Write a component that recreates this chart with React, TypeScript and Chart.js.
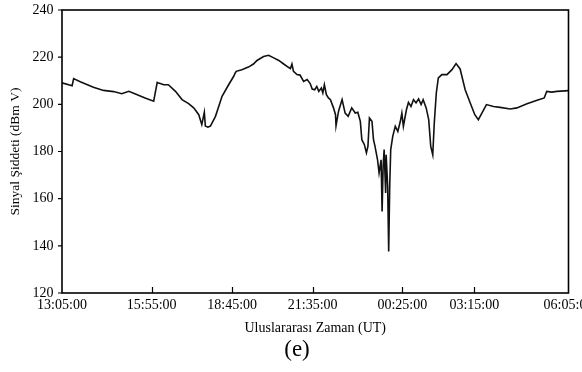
import React, { useEffect, useRef } from "react";
import { Chart, registerables } from "chart.js";

Chart.register(...registerables);

// Sample position along the recording (0 = 13:05:00 UT, 1000 = 06:05:00 UT, uneven time base)
const SAMPLE_X = [
  0, 20, 23, 36, 62, 82, 102, 118, 132, 145, 164, 181, 188, 191, 201, 210, 224, 237, 250, 260,
  270, 276, 281, 283, 288, 293, 303, 316, 329, 339, 342, 344, 355, 368, 378, 385, 398, 408, 418, 428,
  437, 447, 451, 454, 457, 464, 470, 477, 484, 490, 494, 499, 503, 507, 512, 515, 518, 522, 526, 530,
  536, 540, 541, 546, 553, 559, 565, 572, 579, 584, 589, 592, 597, 601, 604, 607, 612, 615, 618, 623,
  626, 630, 632, 634, 636, 639, 640, 643, 645, 647, 649, 653, 658, 663, 668, 671, 674, 680, 684, 689,
  694, 699, 704, 709, 713, 719, 724, 728, 732, 735, 739, 743, 750, 760, 770, 778, 786, 796, 806, 815,
  822, 829, 838, 852, 865, 885, 898, 918, 938, 952, 957, 967, 977, 1000,
];

// Signal strength (dBm V)
const SIGNAL_DBMV = [
  209.1, 207.9, 210.9, 209.6, 207.2, 205.9, 205.4, 204.5, 205.5, 204.4, 202.7, 201.3, 209.3, 209.0, 208.3, 208.3, 205.5, 202.0, 200.3, 198.5,
  195.6, 191.4, 196.6, 190.8, 190.3, 190.8, 194.9, 203.4, 208.3, 211.9, 213.3, 214.0, 214.7, 215.8, 217.1, 218.6, 220.3, 220.8, 219.7, 218.6,
  217.2, 215.7, 215.2, 217.1, 214.0, 212.6, 212.4, 209.7, 210.5, 208.8, 206.5, 206.2, 207.6, 205.5, 206.9, 204.8, 208.3, 204.1, 202.7, 202.0,
  198.5, 195.6, 190.9, 197.1, 202.0, 196.3, 194.9, 198.5, 196.3, 196.6, 192.8, 185.0, 182.9, 179.4, 182.2, 194.2, 192.8, 185.0, 182.2, 176.5,
  170.9, 176.5, 154.6, 173.7, 180.8, 162.4, 178.6, 165.2, 137.6, 165.2, 180.8, 186.4, 190.7, 188.5, 192.8, 196.3, 190.7, 197.7, 200.8, 199.1,
  202.0, 200.6, 202.3, 199.9, 202.0, 198.5, 193.5, 182.2, 178.6, 192.1, 204.8, 211.2, 212.6, 212.6, 214.7, 217.3, 215.0, 206.2, 200.6, 195.6,
  193.5, 196.3, 199.9, 199.1, 198.7, 198.0, 198.5, 200.2, 201.7, 202.7, 205.5, 205.2, 205.5, 205.8,
];

const TICK_POS = [0, 177, 336, 495, 672, 814, 1000];
const TICK_LABELS = ["13:05:00", "15:55:00", "18:45:00", "21:35:00", "00:25:00", "03:15:00", "06:05:00"];

const FONT = "'Liberation Serif', 'Times New Roman', serif";

export default function App() {
  const ref = useRef<HTMLCanvasElement | null>(null);

  useEffect(() => {
    if (!ref.current) return;
    const framePlugin = {
      id: "frame",
      afterDraw(chart: any) {
        const { ctx, chartArea } = chart;
        const { left, right, top, bottom } = chartArea;
        ctx.save();
        ctx.strokeStyle = "#000";
        ctx.lineWidth = 1.6;
        ctx.strokeRect(left, top, right - left, bottom - top);
        ctx.lineWidth = 1.2;
        ctx.beginPath();
        TICK_POS.slice(1, -1).forEach((v) => {
          const px = Math.round(chart.scales.x.getPixelForValue(v)) + 0.5;
          ctx.moveTo(px, bottom);
          ctx.lineTo(px, bottom - 6);
        });
        chart.scales.y.ticks.forEach((t: any) => {
          const py = chart.scales.y.getPixelForValue(t.value);
          ctx.moveTo(left - 4, py);
          ctx.lineTo(left, py);
        });
        ctx.stroke();
        ctx.restore();
      },
    };

    const chart = new Chart(ref.current, {
      type: "line",
      data: {
        datasets: [
          {
            data: SAMPLE_X.map((x, i) => ({ x, y: SIGNAL_DBMV[i] })),
            borderColor: "#111",
            borderWidth: 1.6,
            pointRadius: 0,
            tension: 0,
            fill: false,
          },
        ],
      },
      options: {
        responsive: false,
        animation: false,
        events: [],
        layout: { padding: { top: 10, right: 13.5, left: 0, bottom: 0 } },
        plugins: { legend: { display: false }, tooltip: { enabled: false } },
        scales: {
          x: {
            type: "linear",
            min: 0,
            max: 1000,
            grid: { display: false, drawTicks: false, tickLength: 0 },
            border: { display: false },
            afterBuildTicks: (s: any) => {
              s.ticks = TICK_POS.map((v) => ({ value: v }));
            },
            afterFit: (s: any) => {
              s.height = 79;
              s.paddingLeft = 0;
              s.paddingRight = 0;
            },
            ticks: {
              autoSkip: false,
              maxRotation: 0,
              minRotation: 0,
              padding: 4,
              color: "#000",
              font: { family: FONT, size: 14 },
              callback: (v: any) => {
                const i = TICK_POS.indexOf(Number(v));
                return i >= 0 ? TICK_LABELS[i] : "";
              },
            },
            title: {
              display: true,
              text: "Uluslararası Zaman (UT)",
              color: "#000",
              font: { family: FONT, size: 14 },
              padding: { top: 0, bottom: 35.6 },
            },
          },
          y: {
            min: 120,
            max: 240,
            grid: { display: false, drawTicks: false, tickLength: 0 },
            border: { display: false },
            afterFit: (s: any) => {
              s.width = 62;
              s.paddingTop = 0;
              s.paddingBottom = 0;
            },
            ticks: {
              stepSize: 20,
              padding: 8.5,
              color: "#000",
              font: { family: FONT, size: 14 },
            },
            title: {
              display: true,
              text: "Sinyal Şiddeti (dBm V)",
              color: "#000",
              font: { family: FONT, size: 13.5 },
              padding: { top: 7.6, bottom: 0 },
            },
          },
        },
      },
      plugins: [framePlugin],
    });
    return () => chart.destroy();
  }, []);

  return (
    <div style={{ position: "absolute", left: 0, top: 0, width: 582, height: 372, background: "#fff" }}>
      <canvas ref={ref} width={582} height={372} style={{ display: "block" }} />
      <div
        style={{
          position: "absolute",
          left: 0,
          width: 594,
          top: 336,
          textAlign: "center",
          fontFamily: FONT,
          fontSize: 23,
          lineHeight: "26px",
          color: "#000",
        }}
      >
        (e)
      </div>
    </div>
  );
}
